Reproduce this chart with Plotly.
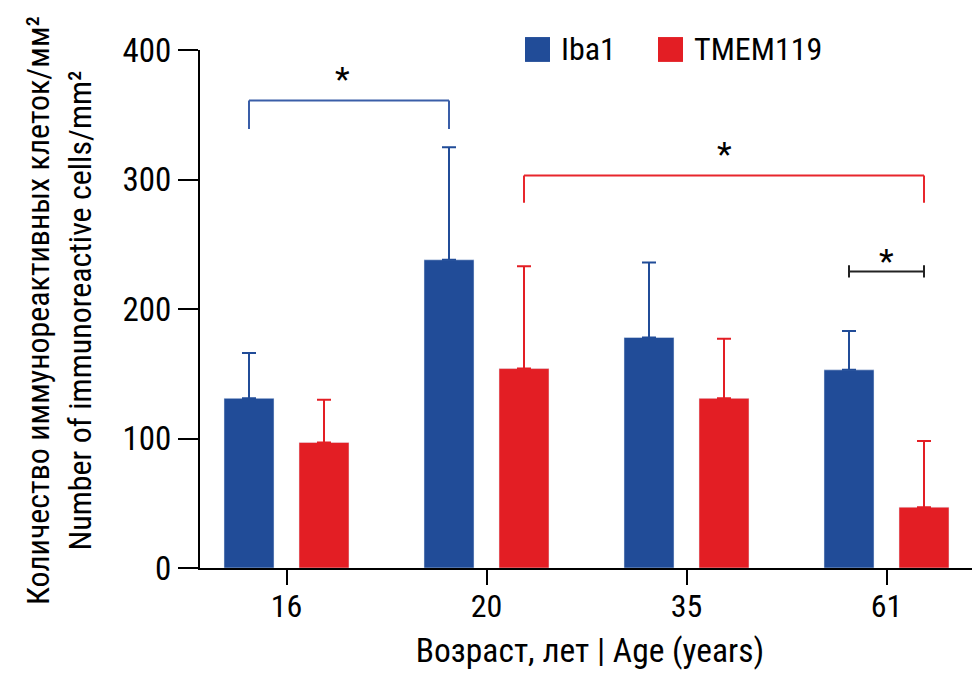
import plotly.graph_objects as go

# ---- data ----
ages = ["16", "20", "35", "61"]
series_names = ["Iba1", "TMEM119"]
iba1_mean = [131, 238, 178, 153]
iba1_err = [35, 87, 58, 30]
tmem_mean = [97, 154, 131, 47]
tmem_err = [33, 79, 46, 51]
y_ticks = [0, 100, 200, 300, 400]
x_title = "Возраст, лет | Age (years)"
y_title = "Количество иммунореактивных клеток/мм²<br>Number of immunoreactive cells/mm²"

# significance brackets: (series a, category a, series b, category b, level, drop, colour, star x/y shift px)
brackets = [
    (0, 0, 0, 1, 361, 22, "blue", -7, 0),
    (1, 1, 1, 3, 303, 21, "red", 0, 0),
    (0, 3, 1, 3, 229, 0, "black", 0, -12),
]

BLUE = "#214c98"
RED = "#e31e24"
BR_COLORS = {"blue": "#3a5ea8", "red": "#e8262c", "black": "#222222"}
FONT = "Roboto Condensed, DejaVu Sans Condensed, sans-serif"

bargap = 0.25
fig = go.Figure()
fig.add_trace(go.Bar(
    x=ages, y=iba1_mean, name=series_names[0], marker_color=BLUE,
    error_y=dict(type="data", symmetric=False, array=iba1_err, arrayminus=[0] * len(ages),
                 color=BLUE, thickness=2, width=7),
    showlegend=False,
))
fig.add_trace(go.Bar(
    x=ages, y=tmem_mean, name=series_names[1], marker_color=RED,
    error_y=dict(type="data", symmetric=False, array=tmem_err, arrayminus=[0] * len(ages),
                 color=RED, thickness=2, width=7),
    showlegend=False,
))

slot = (1 - bargap) / 4.0


def bx(series, cat):
    return cat + (-slot if series == 0 else slot)


shapes = []
annotations = []
for sa, ca, sb, cb, level, drop, col, sx, sy in brackets:
    c = BR_COLORS[col]
    xa, xb = bx(sa, ca), bx(sb, cb)
    line = dict(color=c, width=2)
    shapes.append(dict(type="line", xref="x", yref="y", x0=xa, x1=xb, y0=level, y1=level, line=line))
    if drop > 0:
        for xx in (xa, xb):
            shapes.append(dict(type="line", xref="x", yref="y", x0=xx, x1=xx, y0=level, y1=level - drop, line=line))
    else:
        for xx in (xa, xb):
            shapes.append(dict(type="line", xref="x", yref="y", x0=xx, x1=xx, y0=level - 4.7, y1=level + 4.7, line=line))
    annotations.append(dict(x=(xa + xb) / 2, y=level, xref="x", yref="y", text="*", showarrow=False,
                            yanchor="bottom", xshift=sx, yshift=sy, font=dict(size=34, color="black", family=FONT)))

# legend: squares + labels
leg = [(0.4167, BLUE, series_names[0]), (0.5872, RED, series_names[1])]
for x0, colr, name in leg:
    shapes.append(dict(type="rect", xref="paper", yref="paper", x0=x0, x1=x0 + 0.032,
                       y0=0.977, y1=1.025, fillcolor=colr, line=dict(width=0)))
    annotations.append(dict(x=x0 + 0.044, y=1.001, xref="paper", yref="paper", text=name, showarrow=False,
                            xanchor="left", yanchor="middle", font=dict(size=32, color="black", family=FONT)))

# y-axis title (two lines, rotated)
annotations.append(dict(x=-0.1814, y=0.497, xref="paper", yref="paper", text=y_title, showarrow=False,
                        textangle=-90, xanchor="center", yanchor="middle",
                        font=dict(size=32, color="black", family=FONT)))

fig.update_layout(
    width=972, height=665,
    margin=dict(l=192, r=0, t=42, b=105),
    paper_bgcolor="white", plot_bgcolor="white",
    barmode="group", bargap=bargap, bargroupgap=1 / 3,
    font=dict(family=FONT, size=32, color="black"),
    shapes=shapes, annotations=annotations,
)
fig.update_xaxes(
    type="category", range=[-0.4325, 3.4675], automargin=False,
    showline=True, linewidth=2, linecolor="black",
    ticks="outside", ticklen=15, tickwidth=2, tickcolor="black",
    ticklabelstandoff=-6, showgrid=False, zeroline=False,
    title=dict(text=x_title, standoff=14, font=dict(size=33.5)),
    tickfont=dict(size=32),
)
fig.update_yaxes(
    range=[0, 400], tickvals=y_ticks, ticktext=[str(v) for v in y_ticks], automargin=False,
    showline=True, linewidth=2, linecolor="black",
    ticks="outside", ticklen=20, tickwidth=2, tickcolor="black",
    showgrid=False, zeroline=False,
    tickfont=dict(size=33),
)

fig.write_html("out.html")
